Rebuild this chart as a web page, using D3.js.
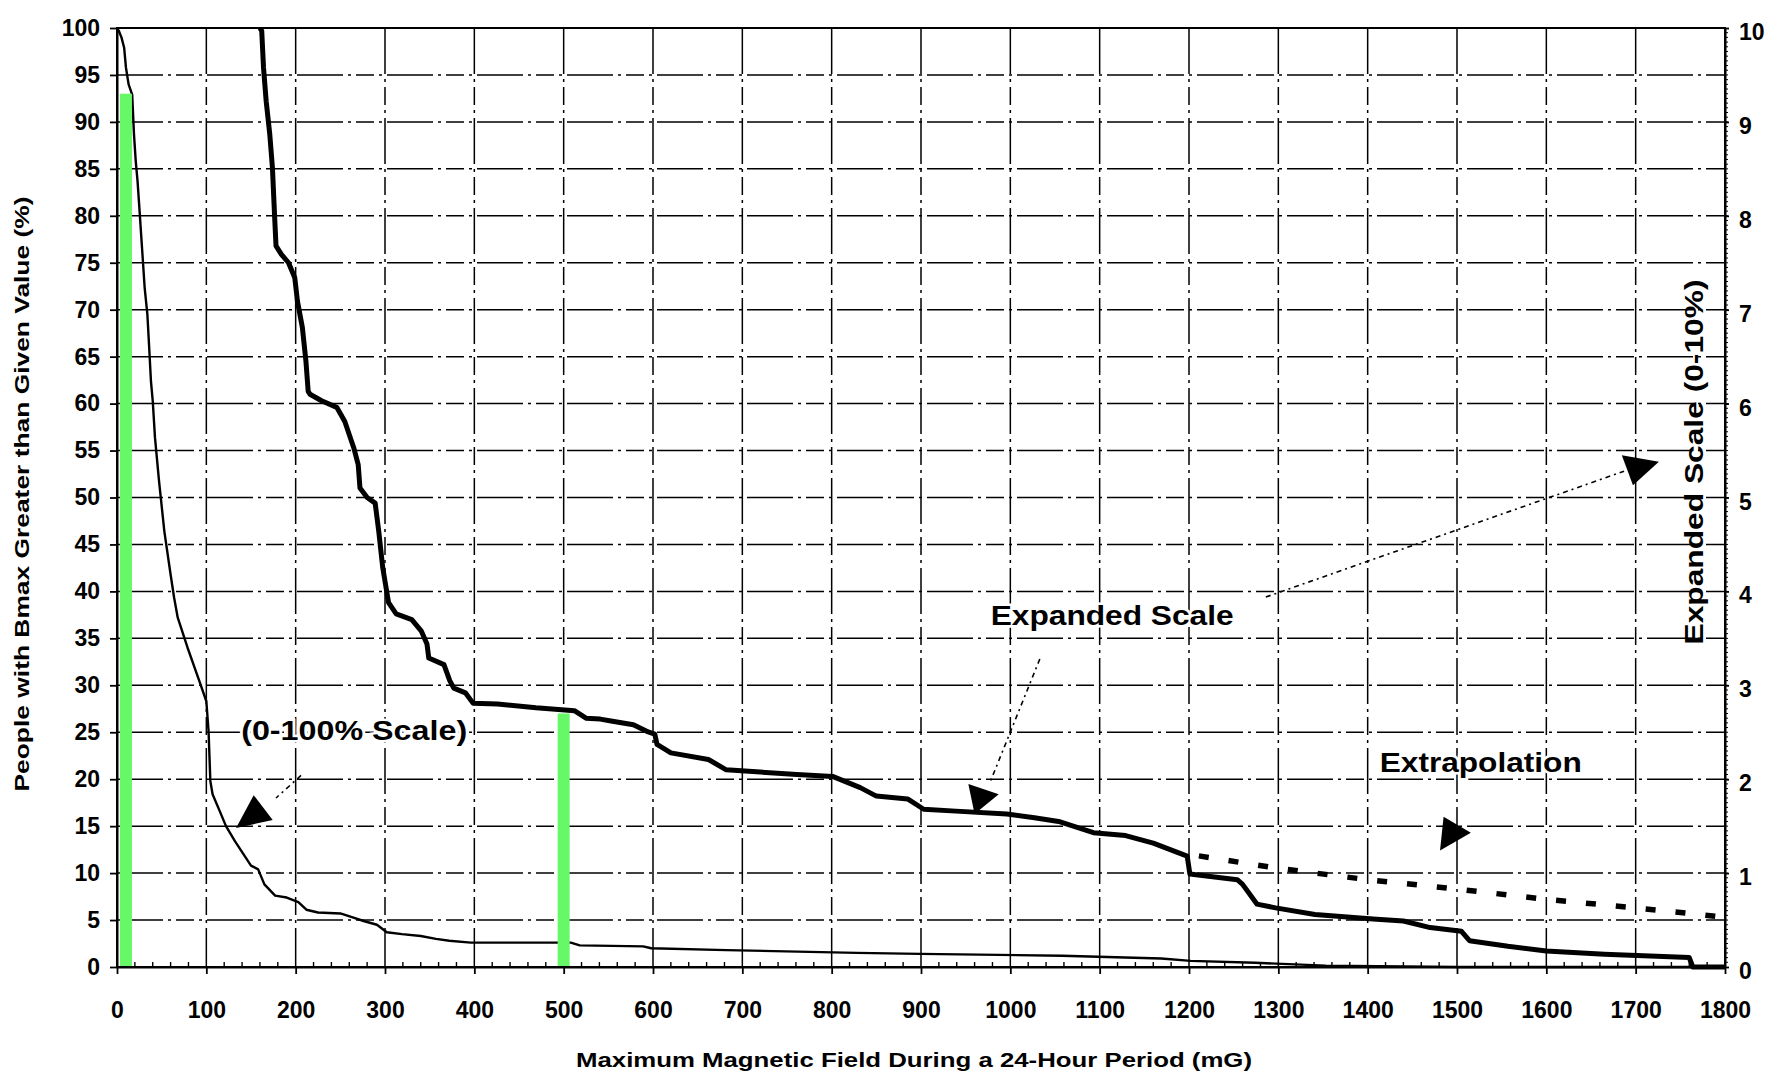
<!DOCTYPE html>
<html>
<head>
<meta charset="utf-8">
<script src="https://cdn.jsdelivr.net/npm/d3@7"></script>
<style>
  html, body { margin: 0; padding: 0; background: #fff; }
  svg { display: block; font-family: "Liberation Sans", Arial, Helvetica, sans-serif; font-weight: bold; }
</style>
</head>
<body>
<svg id="chart" width="1766" height="1074"></svg>
<script>
// Share of people whose 24-hour maximum field (Bmax) exceeds a given value.

// Full-range curve, 0-100 % (left axis): [field mG, percent]
const fullScaleCurve = [
  [0,100],[2,99.7],[5,99.0],[8,97.9],[10,95.8],[13,94.0],[17,92.9],[19,88.7],[21,85.8],
  [23,83.7],[25,80.9],[28,76.6],[31,72.3],[34,69.5],[36,66.0],[38,62.4],[40,60.3],
  [42.5,56.4],[47,51.8],[53,46.4],[60,41.8],[64,39.3],[68,37.2],[79,34.0],[92,30.5],
  [100,28.3],[102.5,25.1],[104.5,19.8],[107,18.4],[115,16.6],[122,15.0],[132,13.4],
  [143,11.8],[150,10.8],[158,10.4],[165,8.8],[177,7.6],[190,7.4],[203,6.9],[212,6.1],
  [225,5.8],[250,5.7],[263,5.3],[276,4.9],[291,4.5],[302,3.7],[319,3.5],[340,3.3],
  [357,3.0],[372,2.8],[396,2.6],[508,2.6],[518,2.3],[589,2.2],[598,2.0],[682,1.8],
  [828,1.5],[899,1.4],[1058,1.2],[1169,0.9],[1202,0.65],[1274,0.45],[1353,0.15],
  [1500,0],[1800,0]
];

// Same distribution on the expanded 0-10 % scale (right axis): [field mG, percent]
const expandedCurve = [
  [160,10],[162,9.97],[164,9.58],[167,9.22],[171,8.87],[174,8.51],[176.5,7.98],[178,7.68],
  [184,7.59],[192,7.5],[199,7.34],[202,7.09],[207.5,6.81],[211.5,6.45],[214,6.13],[216,6.1],
  [229,6.03],[246,5.96],[255,5.81],[265,5.53],[270,5.35],[272,5.1],[280,5.0],[289,4.94],
  [293,4.64],[297.5,4.25],[304,3.88],[312.5,3.76],[330,3.7],[340.5,3.58],[347,3.44],
  [349,3.29],[366,3.22],[372.5,3.05],[377,2.97],[390,2.92],[398.5,2.81],[426,2.8],
  [469,2.76],[512,2.73],[525,2.65],[541,2.64],[553,2.62],[578,2.58],[593,2.51],[602,2.48],
  [604.5,2.37],[620,2.28],[662,2.21],[682,2.1],[761,2.05],[801,2.03],[832,1.91],[850,1.82],
  [885,1.79],[903,1.68],[939,1.66],[996,1.63],[1027,1.59],[1054,1.55],[1093,1.43],
  [1129,1.4],[1160,1.32],[1198,1.18],[1201,0.99],[1254,0.93],[1260,0.88],[1276,0.67],
  [1297,0.63],[1341,0.56],[1406,0.51],[1440,0.49],[1470,0.42],[1505,0.38],[1514,0.28],
  [1557,0.22],[1600,0.17],[1665,0.135],[1760,0.1],[1764,0],[1800,0]
];

// Extrapolated tail on the expanded scale (right axis)
const extrapolation = [
  [1200,1.2],[1300,1.05],[1400,0.93],[1500,0.83],[1600,0.72],[1700,0.63],[1800,0.53]
];

// Highlight bars (left axis): [field mG, percent]
const markerBars = [[10, 93],[500, 27]];

// Tick values
const xTickValues = d3.range(0, 1801, 100);
const leftTickValues = d3.range(0, 101, 5);
const rightTickValues = d3.range(0, 11, 1);

// Callout texts and arrowheads, in axis units (mG, left-axis percent)
const callouts = [
  { text: "(0-100% Scale)", x: 139, y: 24.2, len: 226 },
  { text: "Expanded Scale", x: 978, y: 36.4, len: 243 },
  { text: "Extrapolation", x: 1413.5, y: 20.8, len: 202 }
];
const arrowHeads = [
  [[153, 18.3], [174.3, 15.65], [133.3, 14.8]],
  [[953, 19.5], [987, 18.4], [960, 16.3]],
  [[1684.5, 54.5], [1726, 53.8], [1697, 51.3]],
  [[1485, 16.0], [1515.5, 14.3], [1481, 12.4]]
];
const leaders = [
  [[206, 20.4], [178, 18.0]],
  [[1033, 32.8], [977, 19.6]],
  [[1286, 39.4], [1687, 52.8]]
];

// ---------------------------------------------------------------
const svg = d3.select("#chart");
const plot = { left: 117, right: 1725, top: 28, bottom: 967 };

const x = d3.scaleLinear().domain([0, 1800]).range([plot.left, plot.right]);
const yLeft = d3.scaleLinear().domain([0, 100]).range([plot.bottom, plot.top]);
const yRight = d3.scaleLinear().domain([0, 10]).range([plot.bottom, plot.top]);

svg.append("rect").attr("width", 1766).attr("height", 1074).attr("fill", "#fff");

// Grid
const grid = svg.append("g").attr("stroke", "#000").attr("stroke-width", 1.5)
  .attr("fill", "none").attr("stroke-dasharray", "46,5,3,5,18,5,3,5");
grid.selectAll("line.v").data(xTickValues.filter(v => v > 0 && v < 1800)).join("line")
  .attr("class", "v")
  .attr("x1", d => x(d)).attr("x2", d => x(d))
  .attr("y1", plot.top).attr("y2", plot.bottom);
grid.selectAll("line.h").data(leftTickValues.filter(v => v > 0 && v < 100)).join("line")
  .attr("class", "h")
  .attr("x1", plot.left).attr("x2", plot.right)
  .attr("y1", d => yLeft(d)).attr("y2", d => yLeft(d));

// Minor ticks along the bottom axis (inside)
svg.append("g").attr("stroke", "#000").attr("stroke-width", 1.4)
  .selectAll("line").data(d3.range(20, 1800, 20).filter(v => v % 100 !== 0)).join("line")
  .attr("x1", d => x(d)).attr("x2", d => x(d))
  .attr("y1", plot.bottom).attr("y2", plot.bottom - 5);

// Minor ticks along the right axis (outside)
svg.append("g").attr("stroke", "#000").attr("stroke-width", 1)
  .selectAll("line").data(d3.range(0.05, 10, 0.05)).join("line")
  .attr("x1", plot.right).attr("x2", plot.right + 3)
  .attr("y1", d => yRight(d)).attr("y2", d => yRight(d));

// Curves
const lineLeft = d3.line().x(d => x(d[0])).y(d => yLeft(d[1]));
const lineRight = d3.line().x(d => x(d[0])).y(d => yRight(d[1]));

svg.append("path").datum(fullScaleCurve)
  .attr("d", lineLeft).attr("fill", "none")
  .attr("stroke", "#000").attr("stroke-width", 2.4).attr("stroke-linejoin", "round");

svg.append("path").datum(extrapolation)
  .attr("d", lineRight).attr("fill", "none")
  .attr("stroke", "#000").attr("stroke-width", 5.5)
  .attr("stroke-dasharray", "10,20").attr("stroke-dashoffset", -10);

svg.append("path").datum(expandedCurve)
  .attr("d", lineRight).attr("fill", "none")
  .attr("stroke", "#000").attr("stroke-width", 5).attr("stroke-linejoin", "round");

// Highlight bars
svg.append("g").selectAll("rect").data(markerBars).join("rect")
  .attr("x", d => x(d[0]) - 6).attr("width", 12)
  .attr("y", d => yLeft(d[1])).attr("height", d => yLeft(0) - yLeft(d[1]) - 1)
  .attr("fill", "#66f866");

// Frame
svg.append("rect")
  .attr("x", plot.left).attr("y", plot.top)
  .attr("width", plot.right - plot.left).attr("height", plot.bottom - plot.top)
  .attr("fill", "none").attr("stroke", "#000").attr("stroke-width", 2);

// Axes
function styleAxis(g) {
  g.select(".domain").attr("stroke-width", 2);
  g.selectAll(".tick line").attr("stroke-width", 1.8);
  g.selectAll(".tick text").attr("fill", "#000")
    .attr("font-size", 23).attr("font-weight", "bold")
    .attr("font-family", "'Liberation Sans', Arial, sans-serif");
}

svg.append("g").attr("transform", `translate(${plot.left},0)`)
  .call(d3.axisLeft(yLeft).tickValues(leftTickValues).tickSize(7).tickPadding(10).tickSizeOuter(0))
  .call(styleAxis);

svg.append("g").attr("transform", `translate(0,${plot.bottom})`)
  .call(d3.axisBottom(x).tickValues(xTickValues).tickFormat(d3.format("d"))
    .tickSize(7).tickPadding(28).tickSizeOuter(0))
  .call(styleAxis);

svg.append("g").attr("transform", `translate(${plot.right},0)`)
  .call(d3.axisRight(yRight).tickValues(rightTickValues).tickSize(4).tickPadding(10).tickSizeOuter(0))
  .call(styleAxis)
  .call(g => g.selectAll(".tick text").attr("dy", "0.5em"));

// Axis titles
svg.append("text")
  .attr("transform", `translate(29,494) rotate(-90)`)
  .attr("text-anchor", "middle").attr("font-size", 20)
  .attr("textLength", 595).attr("lengthAdjust", "spacingAndGlyphs")
  .text("People with Bmax Greater than Given Value (%)");

svg.append("text")
  .attr("x", 914).attr("y", 1067)
  .attr("text-anchor", "middle").attr("font-size", 20)
  .attr("textLength", 676).attr("lengthAdjust", "spacingAndGlyphs")
  .text("Maximum Magnetic Field During a 24-Hour Period (mG)");

svg.append("text")
  .attr("transform", `translate(1703,462) rotate(-90)`)
  .attr("text-anchor", "middle").attr("font-size", 25)
  .attr("textLength", 365).attr("lengthAdjust", "spacingAndGlyphs")
  .text("Expanded Scale (0-10%)");

// Callouts (white halo keeps grid lines from running through the words)
svg.append("g").selectAll("text").data(callouts).join("text")
  .attr("x", d => x(d.x)).attr("y", d => yLeft(d.y))
  .attr("font-size", 28)
  .attr("textLength", d => d.len).attr("lengthAdjust", "spacingAndGlyphs")
  .attr("stroke", "#fff").attr("stroke-width", 5).attr("paint-order", "stroke")
  .attr("fill", "#000")
  .text(d => d.text);

svg.append("g").selectAll("line").data(leaders).join("line")
  .attr("x1", d => x(d[0][0])).attr("y1", d => yLeft(d[0][1]))
  .attr("x2", d => x(d[1][0])).attr("y2", d => yLeft(d[1][1]))
  .attr("stroke", "#000").attr("stroke-width", 1.6)
  .attr("stroke-dasharray", "5,4,2,4");

svg.append("g").selectAll("polygon").data(arrowHeads).join("polygon")
  .attr("points", d => d.map(p => [x(p[0]), yLeft(p[1])].join(",")).join(" "))
  .attr("fill", "#000");
</script>
</body>
</html>
